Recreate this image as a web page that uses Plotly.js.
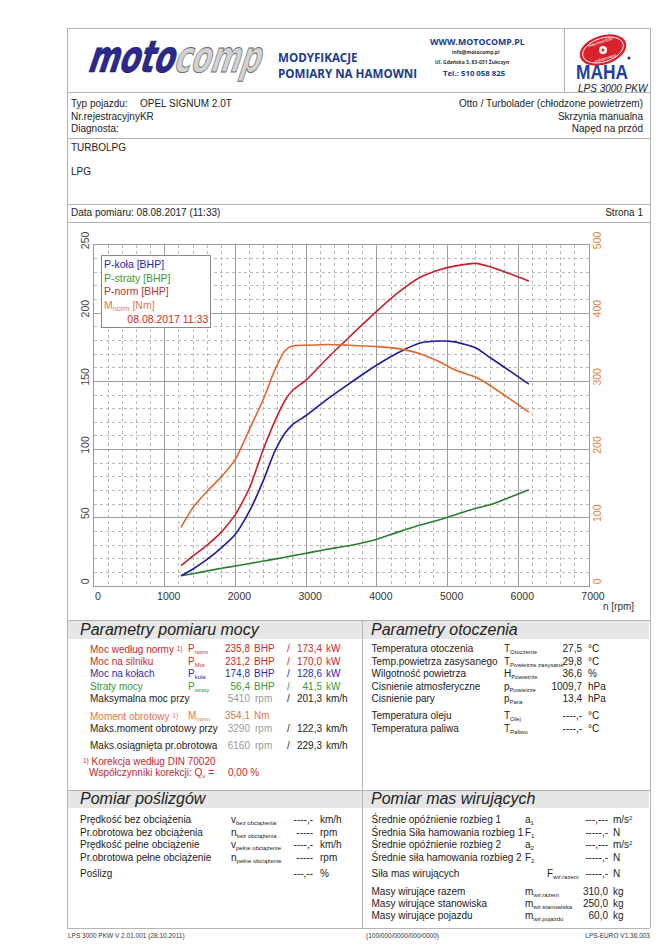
<!DOCTYPE html>
<html><head><meta charset="utf-8">
<script src="https://cdn.plot.ly/plotly-3.0.1.min.js"></script>
<style>
body{margin:0;background:#fff;}
#page{position:relative;width:669px;height:947px;overflow:hidden;background:#fff;font-family:"Liberation Sans",Arial,sans-serif;font-size:10px;color:#222;}
.t{position:absolute;white-space:nowrap;line-height:12px;}
.hl{position:absolute;height:0;border-top:1px solid #b4b4b4;}
.vl{position:absolute;width:0;border-left:1px solid #b4b4b4;}
.bar{position:absolute;background:#e6e6e6;}
svg{overflow:visible;display:block;}
sub{font-size:6px;vertical-align:-2px;line-height:0;}
sup{font-size:6px;vertical-align:3px;line-height:0;}
.sp{font-size:6.5px;vertical-align:2px;}
.st{font-style:italic;font-size:16px;line-height:18px;}
#chart{position:absolute;left:67px;top:224px;width:583px;height:395px;}
</style></head>
<body>
<div id="page">
  <div id="chart"></div>
</div>
<script>
// ---------------- chart data ----------------
const rpm     = [1230, 1400, 1600, 1800, 2000, 2200, 2400, 2550, 2700, 2800, 3000, 3300, 3600, 4000, 4300, 4600, 4900, 5100, 5400, 5600, 5900, 6150];
const pKola   = [7.5, 12.5, 19.5, 28, 38, 55, 78, 98, 112, 118, 125, 137, 148, 162, 171, 178, 179.6, 179, 174.5, 167.5, 157, 148];
const pStraty = [7.5, 9, 11, 13, 14.7, 16.5, 18.3, 19.7, 21.1, 22.1, 24, 27, 29.5, 34.3, 39.5, 44.5, 48.8, 52, 57, 59.5, 65.5, 70.5];
const pNorm   = [15, 22, 30, 39.5, 52.5, 72, 101, 120, 136, 143, 151, 167, 182, 201.5, 215, 226, 232, 234.5, 236.5, 234, 228.5, 223.5];
const mNorm   = [86, 115, 139, 160, 186, 230, 275, 315, 345, 352, 353, 354.1, 353, 351, 348, 341, 328, 317, 306, 294, 273, 255];
const xTicks  = [0, 1000, 2000, 3000, 4000, 5000, 6000, 7000];
const legendLabels = ['P-koła [BHP]', 'P-straty [BHP]', 'P-norm [BHP]', 'M<sub>norm</sub> [Nm]', '08.08.2017 11:33'];

const COL = {blue:'#1c1c9c', green:'#2a7d2e', red:'#c4202c', orange:'#e0662c'};

// ---------------- page (document) ----------------
const page = document.getElementById('page');
function el(cls, css, html){const d=document.createElement('div');d.className=cls;d.style.cssText=css;if(html!==undefined)d.innerHTML=html;page.appendChild(d);return d;}
function T(x,y,html,css){return el('t','left:'+x+'px;top:'+(y-6)+'px;'+(css||''),html);}
function R(x,y,html,css){return el('t','right:'+(669-x)+'px;top:'+(y-6)+'px;'+(css||''),html);}
function H(x1,x2,y){el('hl','left:'+x1+'px;width:'+(x2-x1)+'px;top:'+y+'px;');}
function V(x,y1,y2){el('vl','left:'+x+'px;top:'+y1+'px;height:'+(y2-y1)+'px;');}

// section bars
el('bar','left:68px;top:621px;width:294px;height:18px;');
el('bar','left:363px;top:621px;width:286px;height:18px;');
el('bar','left:68px;top:791px;width:294px;height:17px;');
el('bar','left:363px;top:791px;width:286px;height:17px;');

// frame lines
H(67,650,28); H(67,650,92); H(67,650,138); H(67,650,204); H(67,650,222);
H(67,650,620); H(67,650,790); H(67,650,928);
V(67,28,928); V(650,28,928); V(564,28,92); V(362,620,928);

// header: logo
el('t','left:80px;top:34px;',
 '<svg width="190" height="42" viewBox="0 0 190 42">'+
 '<g transform="scale(1,1.22) skewX(-22)">'+
 '<text x="19" y="31" font-family="DejaVu Sans" font-weight="bold" font-size="36" fill="#2a2a8e" stroke="#15155a" stroke-width="0.6" textLength="86" lengthAdjust="spacingAndGlyphs">moto</text>'+
 '<text x="105" y="31" font-family="DejaVu Sans" font-weight="bold" font-size="36" fill="#d2d2d2" stroke="#6a6a6a" stroke-width="0.8" textLength="86" lengthAdjust="spacingAndGlyphs">comp</text>'+
 '</g></svg>');
const hdr = 'font-family:\'Open Sans\',sans-serif;font-weight:bold;';
T(278,57,'MODYFIKACJE',hdr+'font-size:11.6px;line-height:13px;color:#203a8a;');
T(278,73,'POMIARY NA HAMOWNI',hdr+'font-size:11.6px;line-height:13px;color:#203a8a;');
T(430,44,'WWW.MOTOCOMP.PL',hdr+'font-size:8.8px;line-height:9px;color:#203a8a;');
T(452,55,'info@motocomp.pl',hdr+'font-size:5px;line-height:6px;color:#333;');
T(435,65,'Ul. Gdańska 3, 83-031 Żukczyn',hdr+'font-size:5px;line-height:6px;color:#333;');
T(443,75,'Tel.: 510 058 825',hdr+'font-size:7.8px;line-height:9px;color:#203a8a;');

// MAHA logo
el('t','left:570px;top:30px;',
 '<svg width="75" height="50" viewBox="0 0 75 50">'+
 '<g transform="rotate(-18 33 20)">'+
 '<ellipse cx="33" cy="20" rx="24" ry="14.5" fill="#d9222c"/>'+
 '<ellipse cx="33" cy="20" rx="21" ry="11.8" fill="none" stroke="#fff" stroke-width="0.9"/>'+
 '<text x="33" y="13" text-anchor="middle" font-size="4" fill="#fff" font-family="Liberation Sans">Maschinenbau</text>'+
 '<text x="33" y="30" text-anchor="middle" font-size="4" fill="#fff" font-family="Liberation Sans">Haldenwang</text>'+
 '</g>'+
 '<circle cx="33" cy="20" r="4" fill="#fff"/><circle cx="33" cy="20" r="1.5" fill="#d9222c"/>'+
 '<circle cx="59" cy="28" r="1.6" fill="#1f3f9f"/>'+
 '<text x="6" y="49" font-family="Liberation Sans" font-weight="bold" font-size="20" fill="#1f3fa0" textLength="52" lengthAdjust="spacingAndGlyphs">MAHA</text>'+
 '</svg>');
T(578,88.5,'LPS 3000 PKW','font-style:italic;font-size:10px;line-height:11px;color:#222;');

// vehicle information
T(71,104,'Typ pojazdu:');
T(140,104,'OPEL SIGNUM 2.0T');
T(71,116.5,'Nr.rejestracyjnyKR');
T(71,129,'Diagnosta:');
R(643,104,'Otto / Turbolader (chłodzone powietrzem)');
R(643,116.5,'Skrzynia manualna');
R(643,129,'Napęd na przód');
T(71,148,'TURBOLPG');
T(71,172,'LPG');
T(71,213,'Data pomiaru: 08.08.2017 (11:33)');
R(643,213,'Strona 1');

// section titles
el('t st','left:80px;top:621px;','Parametry pomiaru mocy');
el('t st','left:371px;top:621px;','Parametry otoczenia');
el('t st','left:80px;top:790px;','Pomiar poślizgów');
el('t st','left:371px;top:790px;','Pomiar mas wirujących');

// power parameters
const red='#c8282e', blue='#2b2ba8', green='#3a963a', orange='#e2744a', grey='#9a9a9a';
const powerRows = [
 [649,'Moc według normy <span class="sp">1)</span>','P<sub>norm</sub>','235,8','BHP','173,4','kW',red],
 [661.5,'Moc na silniku','P<sub>Mot</sub>','231,2','BHP','170,0','kW',red],
 [674,'Moc na kołach','P<sub>koła</sub>','174,8','BHP','128,6','kW',blue],
 [686.5,'Straty mocy','P<sub>straty</sub>','56,4','BHP','41,5','kW',green]
];
powerRows.forEach(r=>{
  const c='color:'+r[7]+';';
  T(90,r[0],r[1],c); T(188,r[0],r[2],c); R(250,r[0],r[3],c); T(254,r[0],r[4],c);
  T(287,r[0],'/',c); R(322,r[0],r[5],c); T(326,r[0],r[6],c);
});
T(90,699,'Maksymalna moc przy'); R(250,699,'5410','color:'+grey); T(255,699,'rpm','color:'+grey);
T(287,699,'/'); R(322,699,'201,3'); T(326,699,'km/h');
T(90,716,'Moment obrotowy <span class="sp">1)</span>','color:'+orange); T(188,716,'M<sub>norm</sub>','color:'+orange);
R(250,716,'354,1','color:'+orange); T(254,716,'Nm','color:'+orange);
T(90,728.5,'Maks.moment obrotowy przy'); R(250,728.5,'3290','color:'+grey); T(255,728.5,'rpm','color:'+grey);
T(287,728.5,'/'); R(322,728.5,'122,3'); T(326,728.5,'km/h');
T(90,745.5,'Maks.osiągnięta pr.obrotowa'); R(250,745.5,'6160','color:'+grey); T(255,745.5,'rpm','color:'+grey);
T(287,745.5,'/'); R(322,745.5,'229,3'); T(326,745.5,'km/h');
T(83,760.5,'<span class="sp">1)</span> Korekcja według DIN 70020','color:'+red);
T(89,773,'Współczynniki korekcji: Q<sub>v</sub> =','color:'+red); T(228,773,'0,00 %','color:'+red);

// ambient parameters
const ambientRows = [
 [649,'Temperatura otoczenia','T<sub>Otoczenie</sub>','27,5','°C'],
 [661.5,'Temp.powietrza zasysanego','T<sub>Powietrze zasysane</sub>','29,8','°C'],
 [674,'Wilgotność powietrza','H<sub>Powietrze</sub>','36,6','%'],
 [686.5,'Cisnienie atmosferyczne','p<sub>Powietrze</sub>','1009,7','hPa'],
 [699,'Cisnienie pary','p<sub>Para</sub>','13,4','hPa'],
 [716,'Temperatura oleju','T<sub>Olej</sub>','----,-','°C'],
 [728.5,'Temperatura paliwa','T<sub>Paliwo</sub>','----,-','°C']
];
ambientRows.forEach(r=>{T(371.5,r[0],r[1]); T(504,r[0],r[2]); R(582,r[0],r[3]); T(588,r[0],r[4]);});

// slip
const slipRows = [
 [820,'Prędkość bez obciążenia','v<sub>bez obciążenia</sub>','----,-','km/h'],
 [832.5,'Pr.obrotowa bez obciążenia','n<sub>bez obciążenia</sub>','-----','rpm'],
 [845,'Prędkość pełne obciążenie','v<sub>pełne obciążenie</sub>','----,-','km/h'],
 [857.5,'Pr.obrotowa pełne obciążenie','n<sub>pełne obciążenie</sub>','-----','rpm'],
 [874,'Poślizg','','---,--','%']
];
slipRows.forEach(r=>{T(80,r[0],r[1]); if(r[2]) T(231,r[0],r[2]); R(313,r[0],r[3]); T(320,r[0],r[4]);});

// rotating masses
const massRows = [
 [820,'Średnie opóźnienie rozbieg 1','a<sub>1</sub>',525,'---,---','m/s<sup>2</sup>'],
 [832.5,'Średnia Siła hamowania rozbieg 1','F<sub>1</sub>',525,'-----,-','N'],
 [845,'Średnie opóźnienie rozbieg 2','a<sub>2</sub>',525,'---,---','m/s<sup>2</sup>'],
 [857.5,'Średnie siła hamowania rozbieg 2','F<sub>2</sub>',525,'-----,-','N'],
 [874,'Siła mas wirujących','F<sub>wir.razem</sub>',547,'-----,-','N'],
 [891.5,'Masy wirujące razem','m<sub>wir.razem</sub>',525,'310,0','kg'],
 [903.5,'Masy wirujące stanowiska','m<sub>wir.stanowiska</sub>',525,'250,0','kg'],
 [915.5,'Masy wirujące pojazdu','m<sub>wir.pojazdu</sub>',525,'60,0','kg']
];
massRows.forEach(r=>{T(371.5,r[0],r[1]); T(r[3],r[0],r[2]); R(608,r[0],r[4]); T(613,r[0],r[5]);});

// footer
T(68,936,'LPS 3000 PKW V 2.01.001 (28.10.2011)','font-size:6.5px;color:#333;');
T(366,936,'(100/000/0000/000/0000)','font-size:6.5px;color:#333;');
R(650,936,'LPS-EURO V1.36.003','font-size:6.5px;color:#333;');

// ---------------- Plotly chart ----------------
const PL = 94, PR = 589, PT = 245, PB = 586;   // plot area in page pixels
const W = PR-PL, Hh = PB-PT;
const px = x => (x-PL)/W, py = y => (PB-y)/Hh;

function tr(y, color, axis){
  return {x: rpm, y: y, mode:'lines', yaxis: axis||'y', hoverinfo:'skip',
          line:{color: color, width:1.6, shape:'spline', smoothing:0.6}};
}
const data = [
  tr(pStraty, COL.green),
  tr(mNorm, COL.orange, 'y2'),
  tr(pKola, COL.blue),
  tr(pNorm, COL.red)
];

const legendText =
  '<span style="color:#2626b0">'+legendLabels[0]+'</span><br>'+
  '<span style="color:#3a9a3a">'+legendLabels[1]+'</span><br>'+
  '<span style="color:#c0302e">'+legendLabels[2]+'</span><br>'+
  '<span style="color:#e07848">'+legendLabels[3]+'</span><br>'+
  '<span style="color:#d02a2a">&nbsp;&nbsp;&nbsp;&nbsp;&nbsp;&nbsp;&nbsp;&nbsp;'+legendLabels[4]+'</span>';

const gridMinor = {showgrid:true, gridcolor:'#b9b9b9', gridwidth:1, griddash:'3px,3px', ticks:''};
const layout = {
  width:583, height:395,
  margin:{l:27, r:61, t:21, b:33, pad:0},
  paper_bgcolor:'rgba(0,0,0,0)', plot_bgcolor:'#ffffff',
  showlegend:false,
  font:{family:'Liberation Sans, Arial, sans-serif', size:10, color:'#444'},
  xaxis:{range:[0,7000], tickvals:xTicks, ticktext:xTicks.map(String), showgrid:true, gridcolor:'#9c9c9c', gridwidth:1,
         zeroline:false, showline:true, linecolor:'#9c9c9c', mirror:true, ticks:'', automargin:false,
         tickfont:{size:10.5, color:'#333'}, ticklabelshift:4, fixedrange:true,
         minor:Object.assign({dtick:200}, gridMinor)},
  yaxis:{range:[0,250], dtick:50, tick0:0, showgrid:true, gridcolor:'#9c9c9c', gridwidth:1,
         zeroline:false, showline:true, linecolor:'#9c9c9c', mirror:true, ticks:'', automargin:false,
         tickangle:-90, tickfont:{size:10.5, color:'#444'}, ticklabelshift:-3, fixedrange:true,
         minor:Object.assign({dtick:10}, gridMinor)},
  yaxis2:{range:[0,500], dtick:100, tick0:0, overlaying:'y', side:'right', showgrid:false, zeroline:false,
          showline:false, ticks:'', automargin:false, tickangle:-90, ticklabelshift:-3,
          tickfont:{size:10.5, color:'#e0823e'}, fixedrange:true},
  annotations:[
    {xref:'paper', yref:'paper', x:px(101), y:py(255), xanchor:'left', yanchor:'top', align:'left',
     showarrow:false, text:legendText, font:{size:10.5}, bgcolor:'#ffffff', bordercolor:'#8a8a8a',
     borderwidth:1, borderpad:2},
    {xref:'paper', yref:'paper', x:px(618), y:py(606), xanchor:'center', yanchor:'middle',
     showarrow:false, text:'n [rpm]', font:{size:10, color:'#333'}}
  ],
  shapes:[
    {type:'line', xref:'paper', yref:'paper', x0:px(116), x1:px(127), y0:py(319), y1:py(319),
     line:{color:'#d04040', width:1}}
  ]
};
Plotly.newPlot('chart', data, layout, {staticPlot:true, displayModeBar:false});
</script>
</body></html>
